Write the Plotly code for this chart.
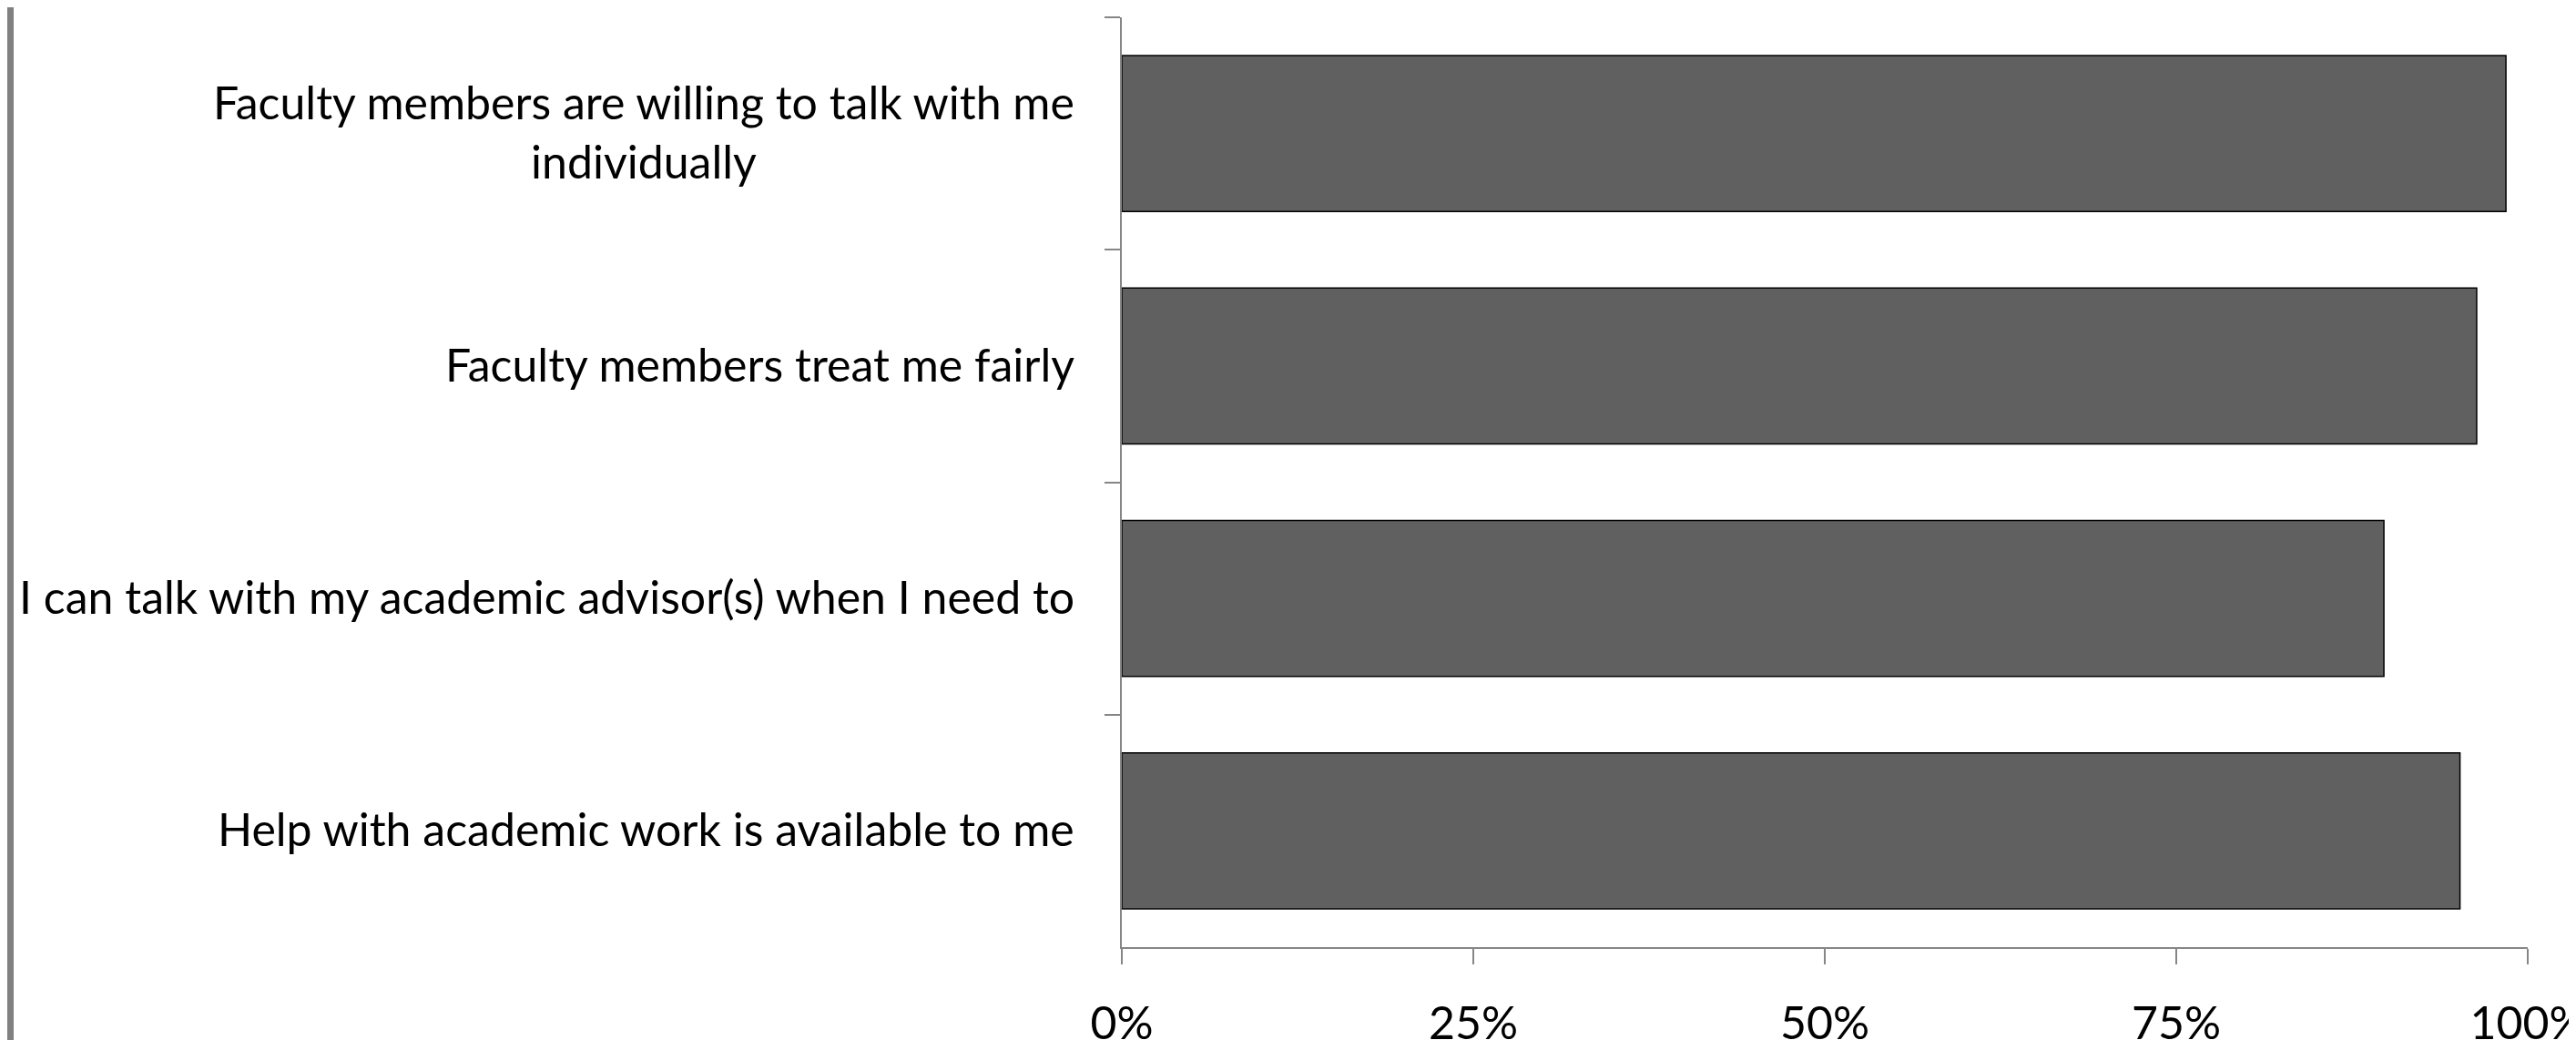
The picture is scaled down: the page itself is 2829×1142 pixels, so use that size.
import plotly.graph_objects as go

categories = [
    "Faculty members are willing to talk with me<br>individually",
    "Faculty members treat me fairly",
    "I can talk with my academic advisor(s) when I need to",
    "Help with academic work is available to me",
]
values = [0.9845, 0.9637, 0.8977, 0.9518]
tick_vals = [0, 0.25, 0.5, 0.75, 1.0]
tick_text = ["0%", "25%", "50%", "75%", "100%"]

FONT = "Lato, sans-serif"
FS = 50
AX = "#868686"

# page is offset by the 8px body margin
W, H = 2821, 1134
ML, MR, MT, MB = 1224, 53, 11, 102
PW = W - ML - MR

fig = go.Figure()
fig.add_trace(go.Bar(
    x=values, y=categories, orientation="h",
    marker=dict(color="#606060", line=dict(color="#000000", width=1.5)),
    hoverinfo="skip",
))

for c in categories:
    fig.add_annotation(
        x=0, y=c, xref="x", yref="y", xanchor="right", yanchor="middle",
        xshift=-50, yshift=2, text=c, align="center", showarrow=False,
        font=dict(family=FONT, size=FS, color="#000000"),
    )

# grey vertical rule at far left of the page
fig.add_shape(type="line", xref="paper", yref="paper",
              x0=(3 - ML) / PW, x1=(3 - ML) / PW,
              y0=-1, y1=2, line=dict(color="#808080", width=8))

fig.update_layout(
    width=W, height=H,
    margin=dict(l=ML, r=MR, t=MT, b=MB, pad=0, autoexpand=False),
    paper_bgcolor="white", plot_bgcolor="white",
    bargap=0.33, showlegend=False,
    font=dict(family=FONT, size=FS, color="#000000"),
)
fig.update_xaxes(
    range=[0, 1], tickvals=tick_vals, ticktext=tick_text,
    showgrid=False, zeroline=False, showline=True, linecolor=AX, linewidth=2,
    ticks="outside", ticklen=17, tickwidth=2, tickcolor=AX,
    ticklabelstandoff=22, ticklabeloverflow="allow", automargin=False,
    tickfont=dict(family=FONT, size=FS, color="#000000"),
)
fig.update_yaxes(
    type="category", categoryorder="array", categoryarray=categories,
    autorange="reversed", tickson="boundaries", automargin=False,
    showgrid=False, zeroline=False, showline=True, linecolor=AX, linewidth=2,
    ticks="outside", ticklen=17, tickwidth=2, tickcolor=AX,
    showticklabels=False,
)

fig.write_html("out.html")
